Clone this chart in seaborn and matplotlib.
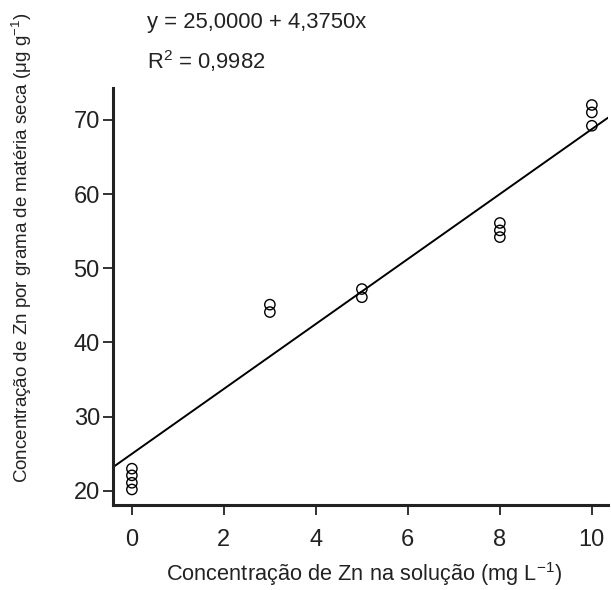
import numpy as np
import pandas as pd
import seaborn as sns
import matplotlib.pyplot as plt

# concentration in solution (mg/L) and Zn in dry matter (ug/g)
conc = [0, 0, 0, 0, 3, 3, 5, 5, 8, 8, 8, 10, 10, 10]
zn = [23.0, 22.1, 21.1, 20.2, 45.1, 44.1, 47.2, 46.1, 56.1, 55.1, 54.2, 72.0, 71.0, 69.2]
intercept = 25.0
slope = 4.375
r2 = 0.9982

sns.set_theme(style="ticks")
plt.rcParams['font.family'] = ['Liberation Sans', 'DejaVu Sans']
plt.rcParams['mathtext.fontset'] = 'custom'
plt.rcParams['mathtext.rm'] = 'Liberation Sans'
plt.rcParams['mathtext.it'] = 'Liberation Sans'

df = pd.DataFrame({'conc': conc, 'zn': zn})

fig = plt.figure(figsize=(6.11, 5.9), dpi=100)
ax = fig.add_axes([0.185, 0.144, 0.81, 0.707])

sns.scatterplot(data=df, x='conc', y='zn', ax=ax, marker='o', s=55,
                facecolor='none', edgecolor='black', linewidth=1.0, zorder=3)

ax.set_xlim(-0.41, 10.35)
ax.set_ylim(18.1, 74.3)
xl = np.array(ax.get_xlim())
sns.lineplot(x=xl, y=intercept + slope * xl, ax=ax, color='black', linewidth=1.4)

ax.set_xticks([0, 2, 4, 6, 8, 10])
ax.set_yticks([20, 30, 40, 50, 60, 70])
ax.tick_params(axis='both', direction='out', length=7.5, width=1.3, labelsize=17,
               colors='#222222')
ax.tick_params(axis='y', pad=2)
ax.tick_params(axis='x', pad=10)
for side in ['left', 'bottom']:
    ax.spines[side].set_linewidth(2.2)
    ax.spines[side].set_color('#222222')
sns.despine(ax=ax)

ax.set_xlabel('Concentração de Zn na solução (mg L$^{-1}$)', fontsize=15.7, color='#222222',
              va='center')
ax.xaxis.set_label_coords(0.507, -0.166)
ax.set_ylabel('Concentração de Zn por grama de matéria seca ($\\mu$g g$^{-1}$)', fontsize=13.5,
              color='#222222', va='center')
ax.yaxis.set_label_coords(-0.184, 0.616)

fig.text(0.24, 0.962, f'y = {intercept:.4f} + {slope:.4f}x'.replace('.', ','), fontsize=15.8,
         va='center', color='#222222')
fig.text(0.24, 0.897, f'R$^2$ = {r2:.4f}'.replace('.', ','), fontsize=15.8,
         va='center', color='#222222')

fig.savefig('out.png', dpi=100, facecolor='white')
